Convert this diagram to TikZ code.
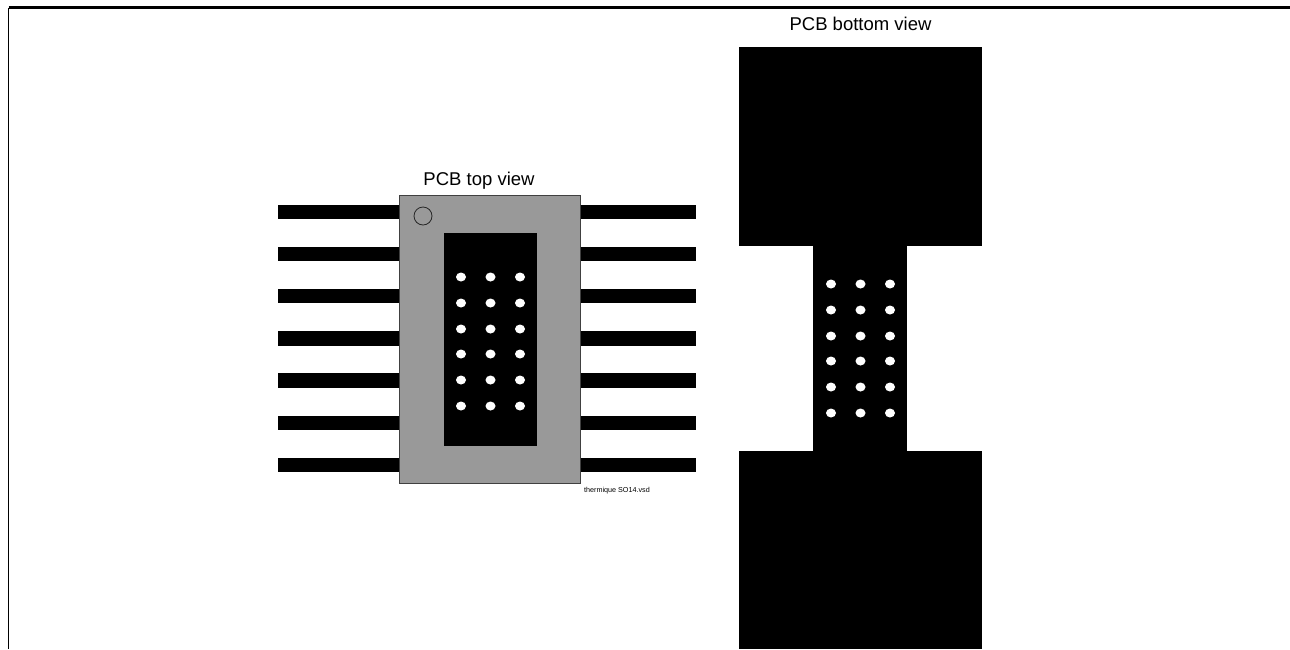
\documentclass[tikz,border=0pt]{standalone}
\usepackage{fontspec}
\setmainfont{Liberation Sans}
\definecolor{bodygray}{HTML}{999999}
\tikzset{
	lead/.style={fill=black},
	hole/.style={fill=white},
	caption/.style={inner sep=0pt,anchor=base,font=\fontsize{18.5}{20}\selectfont},
}
\begin{document}
\begin{tikzpicture}[x=1pt,y=-1pt]
	\useasboundingbox (0,0) rectangle (1290,649);
	% frame
	\draw[line width=2.2pt] (8.5,7.5)--(1290,7.5);
	\draw[line width=1.4pt] (8.5,7.5)--(8.5,649);
	% top view
	\foreach \i in {0,...,6}{
		\fill[lead] (278,{204.8+42.15*\i}) rectangle (400,{219.1+42.15*\i});
		\fill[lead] (581,{204.8+42.15*\i}) rectangle (696,{219.1+42.15*\i});
	}
	\draw[fill=bodygray,draw=black!75,line width=1pt] (399.8,195.5) rectangle (580.8,483);
	\draw[line width=0.8pt,draw=black!85] (423,216) circle(9);
	\fill (444,232.5) rectangle (537,446);
	\foreach \y in {277,303,329,354,380,406}{
		\foreach \x in {461,490.5,520}{
			\fill[hole] (\x,\y) ellipse(5 and 4.5);
		}
	}
	\node[caption] (topview) at (479,185) {PCB top view};
	\node[inner sep=0pt,font=\fontsize{7.2}{8}\selectfont] (filename) at (617,490.8) {thermique SO14.vsd};
	% bottom view
	\fill (738.6,47) rectangle (982,246);
	\fill (813,246) rectangle (907,451);
	\fill (738.6,451) rectangle (982,649);
	\foreach \y in {284,310,336,361,387,413}{
		\foreach \x in {831,860.5,890}{
			\fill[hole] (\x,\y) ellipse(5 and 4.5);
		}
	}
	\node[caption] (bottomview) at (860.5,30.8) {PCB bottom view};
\end{tikzpicture}
\end{document}
